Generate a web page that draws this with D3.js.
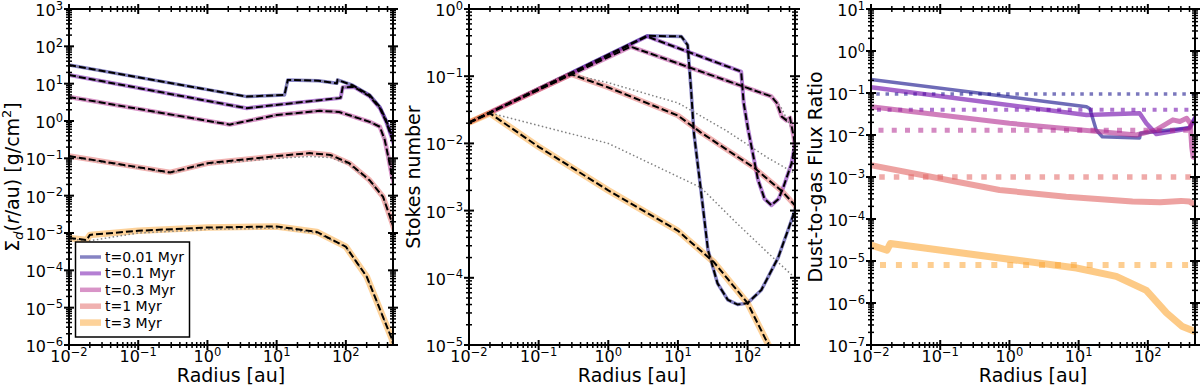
<!DOCTYPE html>
<html>
<head>
<meta charset="utf-8">
<script src="https://cdn.jsdelivr.net/npm/d3@7"></script>
<style>
  body { margin: 0; background: #fff; }
  text { font-family: "DejaVu Sans", sans-serif; fill: #000; }
</style>
</head>
<body>
<svg id="chart" width="1200" height="386"></svg>
<script>
// ---- data (radius in au, value) ----
const timeLabels = ["t=0.01 Myr", "t=0.1 Myr", "t=0.3 Myr", "t=1 Myr", "t=3 Myr"];

// dust surface density
const sigma001 = [[0.01,31.6],[3.7,4.5],[13,5.0],[14.5,12.6],[40,12],[74,10.2],[76,12.6],[125,9.1],[220,5.0],[310,2.4],[380,1.07],[460,0.4],[500,0.25]];
const sigma01 = [[0.01,17],[3.7,2.2],[4.5,2.3],[80,4.1],[84,4.2],[90,8.0],[130,8.2],[220,4.6],[310,2.2],[380,0.98],[460,0.36],[500,0.22]];
const sigma03 = [[0.01,4.4],[2.1,0.8],[10,1.45],[42,1.87],[80,1.75],[220,0.95],[310,0.7],[365,0.31],[410,0.11],[460,0.036],[500,0.02]];
const sigma1 = [[0.01,0.115],[0.29,0.042],[1,0.074],[10,0.115],[30,0.138],[60,0.123],[112,0.074],[220,0.026],[345,0.0093],[460,0.002],[500,0.0012]];
const sigma3 = [[0.01,7.4e-4],[0.018,6.5e-4],[0.02,8.9e-4],[0.1,1.15e-3],[1,1.4e-3],[10,1.5e-3],[38,1.07e-3],[100,4.3e-4],[200,6.8e-5],[460,1.5e-6],[500,8e-7]];
const sigmaRef1 = [[0.01,0.11],[0.29,0.04],[1,0.07],[10,0.1],[30,0.112],[60,0.105],[112,0.068],[220,0.025],[345,0.0092],[460,0.002],[500,0.0012]];
const sigmaRef3 = [[0.01,6.9e-4],[0.02,6.2e-4],[0.1,1.0e-3],[1,1.25e-3],[10,1.35e-3],[38,1.0e-3],[100,4.2e-4],[200,6.8e-5],[460,1.5e-6],[500,8e-7]];

// Stokes number
const stokes001 = [[0.01,0.0204],[3.6,0.40],[11.2,0.39],[13.8,0.29],[15.5,0.06],[17,0.014],[21.4,0.002],[27,2.6e-4],[37,8.3e-5],[52,4.7e-5],[72,4.0e-5],[100,4.2e-5],[158,6.6e-5],[275,2.0e-4],[380,5.1e-4],[478,1.0e-3],[500,1.2e-3]];
const stokes01 = [[0.01,0.0204],[3.6,0.39],[81,0.117],[88,0.04],[102,0.016],[141,0.0029],[175,0.0015],[220,0.0012],[280,0.0015],[330,0.0023],[427,0.005],[500,0.012]];
const stokes03 = [[0.01,0.0204],[2.1,0.275],[219,0.05],[263,0.04],[309,0.025],[363,0.022],[407,0.024],[457,0.013],[500,0.007]];
const stokes1 = [[0.01,0.0204],[0.29,0.107],[1,0.068],[10,0.026],[21.4,0.0145],[126,0.0043],[320,0.0019],[478,0.0012],[500,0.0011]];
const stokes3 = [[0.01,0.0204],[0.02,0.028],[0.1,0.0089],[1,0.002],[10,5e-4],[33,1.7e-4],[100,4.2e-5],[200,1e-5],[300,2e-6]];
const stokesLimA = [[2.1,0.275],[81,0.072],[219,0.051],[300,0.035],[500,0.012]];
const stokesLimB = [[0.29,0.107],[1,0.08],[10,0.04],[47,0.016],[200,0.006],[500,0.0035]];
const stokesLimC = [[0.021,0.028],[1,0.01],[21.4,0.0022],[65,7e-4],[200,2.3e-4],[478,1e-4],[500,9e-5]];

// dust-to-gas flux ratio
const flux001 = [[0.01,0.21],[13,0.047],[14.5,0.042],[18,0.013],[22,0.0091],[76,0.0085],[78,0.011],[400,0.0148],[490,0.027],[500,0.03]];
const flux01 = [[0.01,0.137],[13,0.030],[76,0.033],[95,0.019],[133,0.0105],[400,0.0145],[490,0.027],[500,0.03]];
const flux03 = [[0.01,0.047],[1,0.019],[68,0.01],[132,0.0132],[230,0.023],[290,0.021],[363,0.025],[410,0.019],[430,0.0052],[450,0.003],[500,0.0028]];
const flux1 = [[0.01,1.9e-3],[0.72,4.9e-4],[6.6,3.4e-4],[60,2.6e-4],[150,2.5e-4],[300,2.7e-4],[400,2.6e-4],[500,2.1e-4]];
const flux3 = [[0.01,2.4e-5],[0.017,1.8e-5],[0.019,2.6e-5],[9.3,6.8e-6],[35,4.3e-6],[95,2.0e-6],[186,5.8e-7],[316,2.75e-7],[480,2.1e-7],[500,2.0e-7]];
const fluxInitial = [0.095, 0.04, 0.013, 1.0e-3, 8e-6];

// ---- style ----
const colors = ["#0d0887", "#6a00a8", "#b12a90", "#e16462", "#fca636"];
const widths = [3.5, 4, 4.5, 5.5, 6.5];
const fluxWidths = [3.5, 4.5, 5, 6, 7];
const dotWidths = [3.5, 4, 5, 5.5, 6];

const TOP = 9, BOTTOM = 345;
const X_MIN = 0.01, X_MAX = 480;
const svg = d3.select("#chart");

function logTicks(lo, hi) {
    const major = [], minor = [];
    for (let k = Math.floor(Math.log10(lo)); k <= Math.ceil(Math.log10(hi)); k++) {
        for (let m = 1; m <= 9; m++) {
            const v = m * Math.pow(10, k);
            if (v < lo * 0.9999 || v > hi * 1.0001) continue;
            (m === 1 ? major : minor).push(v);
        }
    }
    return { major, minor };
}

function powLabel(sel, v) {
    const e = Math.round(Math.log10(v));
    sel.append("tspan").text("10");
    sel.append("tspan").attr("dy", -6.5).attr("font-size", 11.5)
        .text(e < 0 ? "\u2212" + (-e) : String(e));
}

function makePanel(left, right, yDomain, id) {
    const x = d3.scaleLog().domain([X_MIN, X_MAX]).range([left, right]);
    const y = d3.scaleLog().domain(yDomain).range([BOTTOM, TOP]);
    svg.append("clipPath").attr("id", id).append("rect")
        .attr("x", left).attr("y", TOP).attr("width", right - left).attr("height", BOTTOM - TOP);
    const plot = svg.append("g").attr("clip-path", `url(#${id})`);
    const line = d3.line().x(d => x(d[0])).y(d => y(d[1]));
    return { x, y, plot, line, left, right, yDomain };
}

function drawFrame(p) {
    const g = svg.append("g");
    const xt = logTicks(X_MIN, X_MAX);
    const yt = logTicks(p.yDomain[0], p.yDomain[1]);

    // x ticks top + bottom
    [BOTTOM, TOP].forEach(y0 => {
        g.selectAll(null).data(xt.minor).enter().append("line")
            .attr("x1", d => p.x(d)).attr("x2", d => p.x(d))
            .attr("y1", y0 - 3).attr("y2", y0 + 3)
            .attr("stroke", "#000").attr("stroke-width", 1.5);
        g.selectAll(null).data(xt.major).enter().append("line")
            .attr("x1", d => p.x(d)).attr("x2", d => p.x(d))
            .attr("y1", y0 - 5).attr("y2", y0 + 5)
            .attr("stroke", "#000").attr("stroke-width", 2);
    });
    // y ticks left + right
    [p.left, p.right].forEach(x0 => {
        g.selectAll(null).data(yt.minor).enter().append("line")
            .attr("y1", d => p.y(d)).attr("y2", d => p.y(d))
            .attr("x1", x0 - 3).attr("x2", x0 + 3)
            .attr("stroke", "#000").attr("stroke-width", 1.5);
        g.selectAll(null).data(yt.major).enter().append("line")
            .attr("y1", d => p.y(d)).attr("y2", d => p.y(d))
            .attr("x1", x0 - 5).attr("x2", x0 + 5)
            .attr("stroke", "#000").attr("stroke-width", 2);
    });

    g.append("rect")
        .attr("x", p.left).attr("y", TOP)
        .attr("width", p.right - p.left).attr("height", BOTTOM - TOP)
        .attr("fill", "none").attr("stroke", "#000").attr("stroke-width", 2);

    g.selectAll(null).data(xt.major).enter().append("text")
        .attr("x", d => p.x(d)).attr("y", BOTTOM + 17)
        .attr("text-anchor", "middle").attr("font-size", 16)
        .each(function (d) { powLabel(d3.select(this), d); });

    g.selectAll(null).data(yt.major).enter().append("text")
        .attr("x", p.left - 6).attr("y", d => p.y(d) + 7)
        .attr("text-anchor", "end").attr("font-size", 16)
        .each(function (d) { powLabel(d3.select(this), d); });

    g.append("text")
        .attr("x", (p.left + p.right) / 2).attr("y", 382)
        .attr("text-anchor", "middle").attr("font-size", 19)
        .text("Radius [au]");
    return g;
}

function yLabel(x0, build) {
    const t = svg.append("text")
        .attr("transform", `translate(${x0},${(TOP + BOTTOM) / 2}) rotate(-90)`)
        .attr("text-anchor", "middle").attr("font-size", 19);
    build(t);
}

// === PANEL 1: surface density ===
const p1 = makePanel(69, 393, [1e-6, 1e3], "clip1");
const sigmaSets = [sigma001, sigma01, sigma03, sigma1, sigma3];
const sigmaRefs = [sigma001, sigma01, sigma03, sigmaRef1, sigmaRef3];
sigmaSets.forEach((s, i) => {
    p1.plot.append("path").attr("d", p1.line(s)).attr("fill", "none")
        .attr("stroke", colors[i]).attr("stroke-opacity", 0.5)
        .attr("stroke-width", widths[i]).attr("stroke-linejoin", "round");
});
sigmaRefs.forEach(s => {
    p1.plot.append("path").attr("d", p1.line(s)).attr("fill", "none")
        .attr("stroke", "#808080").attr("stroke-width", 1.5)
        .attr("stroke-dasharray", "1.5,2.5");
});
sigmaSets.forEach(s => {
    p1.plot.append("path").attr("d", p1.line(s)).attr("fill", "none")
        .attr("stroke", "#000").attr("stroke-width", 2)
        .attr("stroke-dasharray", "7,3");
});
drawFrame(p1);
yLabel(19, t => {
    t.append("tspan").text("\u03A3");
    t.append("tspan").attr("font-style", "italic").attr("font-size", 13).attr("dy", 4).text("d");
    t.append("tspan").attr("dy", -4).text("(");
    t.append("tspan").attr("font-style", "italic").text("r");
    t.append("tspan").text("/au) [g/cm");
    t.append("tspan").attr("font-size", 13).attr("dy", -8).text("2");
    t.append("tspan").attr("dy", 8).text("]");
});

// legend
const legend = svg.append("g");
legend.append("rect").attr("x", 75.5).attr("y", 242).attr("width", 114).attr("height", 95)
    .attr("fill", "#fff").attr("stroke", "#000").attr("stroke-width", 1.5);
timeLabels.forEach((lab, i) => {
    const yy = 257 + i * 16.4;
    legend.append("line").attr("x1", 80).attr("x2", 101).attr("y1", yy).attr("y2", yy)
        .attr("stroke", colors[i]).attr("stroke-opacity", 0.5).attr("stroke-width", widths[i]);
    legend.append("text").attr("x", 105).attr("y", yy + 5).attr("font-size", 14).text(lab);
});

// === PANEL 2: Stokes number ===
const p2 = makePanel(469, 795, [1e-5, 1], "clip2");
const stokesSets = [stokes001, stokes01, stokes03, stokes1, stokes3];
stokesSets.forEach((s, i) => {
    p2.plot.append("path").attr("d", p2.line(s)).attr("fill", "none")
        .attr("stroke", colors[i]).attr("stroke-opacity", 0.5)
        .attr("stroke-width", widths[i]).attr("stroke-linejoin", "round");
});
[stokesLimA, stokesLimB, stokesLimC].forEach(s => {
    p2.plot.append("path").attr("d", p2.line(s)).attr("fill", "none")
        .attr("stroke", "#808080").attr("stroke-width", 1.5)
        .attr("stroke-dasharray", "1.5,2.5");
});
stokesSets.forEach(s => {
    p2.plot.append("path").attr("d", p2.line(s)).attr("fill", "none")
        .attr("stroke", "#000").attr("stroke-width", 2)
        .attr("stroke-dasharray", "7,3");
});
drawFrame(p2);
yLabel(420, t => t.text("Stokes number"));

// === PANEL 3: flux ratio ===
const p3 = makePanel(871, 1195, [1e-7, 10], "clip3");
const fluxSets = [flux001, flux01, flux03, flux1, flux3];
fluxSets.forEach((s, i) => {
    p3.plot.append("path").attr("d", p3.line([[X_MIN, fluxInitial[i]], [X_MAX, fluxInitial[i]]]))
        .attr("fill", "none").attr("stroke", colors[i]).attr("stroke-opacity", 0.55)
        .attr("stroke-width", dotWidths[i])
        .attr("stroke-dasharray", `${dotWidths[i]},${dotWidths[i] * 1.65}`)
        .attr("stroke-dashoffset", -dotWidths[i] * 1.5);
    p3.plot.append("path").attr("d", p3.line(s)).attr("fill", "none")
        .attr("stroke", colors[i]).attr("stroke-opacity", 0.6)
        .attr("stroke-width", fluxWidths[i]).attr("stroke-linejoin", "round");
});
drawFrame(p3);
yLabel(822, t => t.text("Dust-to-gas Flux Ratio"));
</script>
</body>
</html>
